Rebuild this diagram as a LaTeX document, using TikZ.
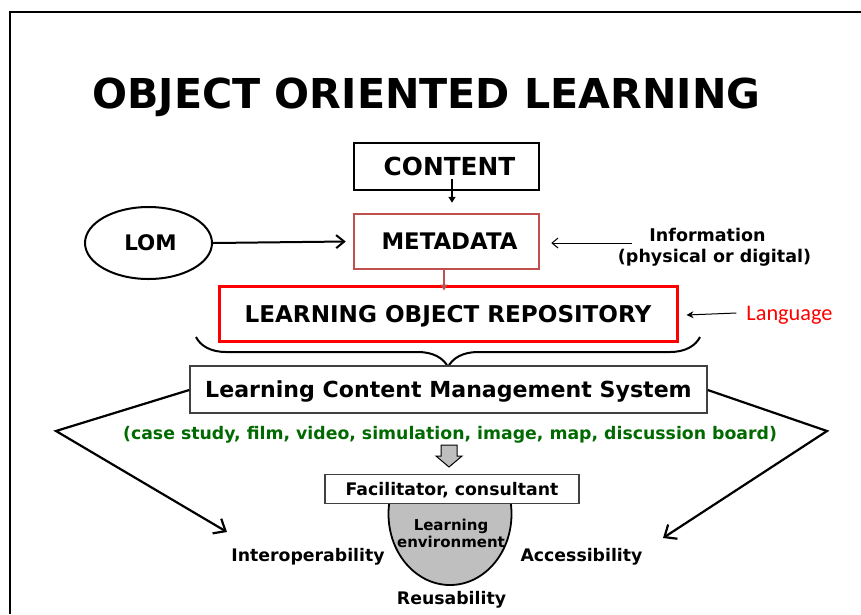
\documentclass[tikz,border=0pt]{standalone}
\usepackage{fontspec}
\setmainfont{DejaVu Sans}
\newfontfamily\calibfont{Carlito}
\usetikzlibrary{arrows.meta,decorations.pathreplacing,shapes.geometric}

\definecolor{metared}{HTML}{C0504D}
\definecolor{repored}{HTML}{FF0000}
\definecolor{mediagreen}{RGB}{0,105,0}
\definecolor{envgray}{HTML}{BFBFBF}
\definecolor{boxgray}{HTML}{404040}

\tikzset{
  txt/.style={font=\bfseries\fontsize{#1}{#1}\selectfont, inner sep=0pt, text depth=0pt},
  thinarrow/.style={line width=1, -{Straight Barb[length=6,width=10]}},
  vline/.style={line width=2.2, line join=miter, -{Straight Barb[length=10,width=17,line width=2.2]}},
  smallhead/.style={line width=1.6, -{Triangle[length=6,width=7]}},
}

\begin{document}
\begin{tikzpicture}[x=1pt,y=-1pt]
\useasboundingbox (0,0) rectangle (861,614);

% slide frame (left and top edges)
\draw[line width=1.8] (10,614) -- (10,12) -- (861,12);

% title
\node[txt=41.2] (title) at (426.5,93) {OBJECT ORIENTED LEARNING};

% main chain
\node[draw, line width=2.5, minimum width=185, minimum height=47, txt=24.8] (content) at (446.5,166.5) {\hspace*{6pt}CONTENT};
\node[draw=metared, line width=2.5, minimum width=185, minimum height=55, txt=22.8] (meta) at (446.5,241.5) {\hspace*{6pt}METADATA};
\node[draw, ellipse, line width=2, minimum width=127, minimum height=72, txt=21.4] (lom) at (148.5,243) {\hspace*{4pt}LOM};
\node[draw=repored, line width=3, minimum width=458, minimum height=55, txt=23.1] (lor) at (448,313.5) {LEARNING OBJECT REPOSITORY};

% side notes
\node[font=\bfseries\fontsize{17.5}{21}\selectfont, align=center, inner sep=0pt] (info) at (714.5,247) {\hspace*{-14pt}Information\\(physical or digital)};
\node[font=\calibfont\fontsize{22.3}{22.3}\selectfont, text=repored, inner sep=0pt, text depth=0pt] (lang) at (789.5,313) {Language};

% arrows of the chain
\draw[smallhead] ([xshift=5.5,yshift=12]content.south) -- ([xshift=5.5,yshift=10]meta.north);
\draw[line width=2, -{Straight Barb[length=8,width=13,line width=2]}] (lom.east) -- ([xshift=-7]meta.west);
\coordinate (infostart) at (632,243);
\draw[thinarrow] (infostart) -- ([xshift=11,yshift=-1.5]meta.east);
\draw[metared, smallhead] ([xshift=-2.5]meta.south) -- ([xshift=-4,yshift=-6]lor.north);
\draw[line width=1, -{Stealth[length=7,width=7]}] ([xshift=-10]lang.west) -- ([xshift=8,yshift=-1.5]lor.east);

% brace gathering the repository into the management system
\draw[line width=2, decorate, decoration={brace, amplitude=30, aspect=0.5}] (700,337) -- (196,337);

% management system
\node[draw=boxgray, line width=1.5, fill=white, minimum width=517, minimum height=47, txt=22.1] (lcms) at (448.5,389.5) {Learning Content Management System};
\node[txt=17.3, text=mediagreen] (media) at (450,433) {(case study, film, video, simulation, image, map, discussion board)};

% branches to the qualities
\coordinate (lbend) at (56,431);
\coordinate (rbend) at (827,431);
\coordinate (ltip) at (227,532);
\coordinate (rtip) at (663,538);
\draw[vline] ([yshift=-0.5]lcms.west) -- (lbend) -- (ltip);
\draw[vline] ([yshift=-0.5]lcms.east) -- (rbend) -- (rtip);

% block arrow down to the facilitator
\draw[line width=1, fill=envgray, line join=miter]
  (441,445) -- (457,445) -- (457,456) -- (462,456) -- (449,467) -- (436,456) -- (441,456) -- cycle;

% learning environment bowl
\begin{scope}
  \clip (370,503) rectangle (530,600);
  \draw[line width=1.8, fill=envgray] (450,514) ellipse [x radius=61.5, y radius=71];
\end{scope}
\node[draw=boxgray, line width=1.5, fill=white, minimum width=254, minimum height=29, txt=17.3] (facil) at (452,489) {Facilitator, consultant};
\node[font=\bfseries\fontsize{15}{17}\selectfont, align=center, inner sep=0pt] (env) at (451,533) {Learning\\environment};

% quality labels
\node[txt=17.3] (interop) at (308,555) {Interoperability};
\node[txt=17.3] (access) at (581.5,555) {Accessibility};
\node[txt=17.3] (reuse) at (451.5,598) {Reusability};
\end{tikzpicture}
\end{document}
